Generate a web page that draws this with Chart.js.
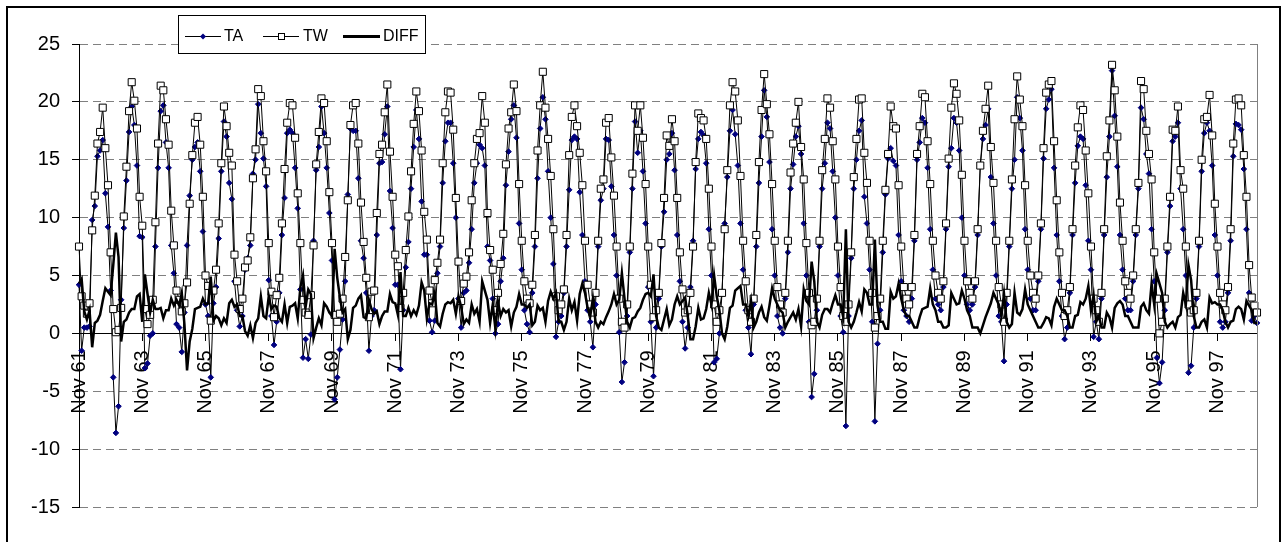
<html lang="en">
<head>
  <meta charset="UTF-8">
  <title>TA / TW / DIFF</title>
  <style>
    body { margin: 0; background: #fff; }
    #wrap { position: absolute; left: 0; top: 0; width: 1282px; height: 542px; }
  </style>
  <script src="https://cdn.jsdelivr.net/npm/chart.js@4.4.0/dist/chart.umd.min.js"></script>
</head>
<body>
  <div id="wrap"><canvas id="lineChart"></canvas></div>
  <script>
    // monthly series, Nov 61 .. Feb 99 (one row = Nov..Oct)
    const startYear = 1961
    const monthNames = ["Jan", "Feb", "Mar", "Apr", "May", "Jun", "Jul", "Aug", "Sep", "Oct", "Nov", "Dec"]
    const tickEvery = 24
    const yTicks = [-15, -10, -5, 0, 5, 10, 15, 20, 25]

    const taValues = [
      4.2, -1.5, 0.5, 0.5, 0.6, 9.8, 11.0, 15.3, 15.8, 16.7, 12.1, 9.2,
      3.7, -3.8, -8.6, -6.3, 2.9, 9.1, 13.2, 17.4, 19.6, 18.0, 14.5, 8.4,
      8.3, -3.0, -2.6, -0.2, 0.0, 7.5, 14.3, 19.2, 19.7, 16.5, 14.3, 7.6,
      5.2, 0.8, 0.5, -1.6, 1.8, 7.6, 11.9, 15.0, 16.1, 16.5, 14.0, 8.8,
      2.5, 1.5, -3.8, 2.6, 4.0, 8.2, 14.0, 18.3, 17.0, 13.0, 11.6, 4.5,
      2.0, 0.6, 1.5, 5.5, 6.5, 7.6, 13.8, 15.0, 19.8, 17.3, 15.1, 12.7,
      4.6, 1.5, -1.0, 1.0, 3.5, 8.5, 11.7, 17.3, 17.6, 17.3, 14.3, 10.8,
      3.8, -2.1, -0.5, -2.2, -0.1, 8.0, 14.1, 16.1, 19.6, 17.3, 14.3, 10.4,
      6.3, -5.7, -3.8, -1.4, 1.2, 4.5, 12.0, 17.7, 17.5, 17.5, 13.4, 8.0,
      6.5, 3.5, -1.5, 1.5, 2.0, 8.5, 14.7, 14.8, 17.2, 19.6, 12.3, 9.1,
      4.2, 4.2, -3.1, 2.0, 5.7, 7.9, 12.5, 16.1, 19.3, 16.8, 11.4, 6.8,
      6.8, 1.1, 0.1, 1.1, 5.2, 7.5, 13.0, 16.6, 18.2, 18.2, 14.7, 10.0,
      3.0, 0.5, 3.5, 3.7, 6.1, 9.0, 13.0, 14.7, 16.3, 16.0, 14.5, 7.5,
      6.3, 3.0, 0.0, 0.8, 4.5, 6.5, 12.8, 15.7, 18.5, 19.7, 16.9, 9.5,
      5.5, 2.0, 0.8, 0.1, 3.5, 7.5, 13.4, 17.7, 20.4, 18.5, 14.0, 10.0,
      6.0, -0.3, 1.0, 1.5, 3.5, 7.5, 12.4, 16.7, 17.0, 16.8, 12.2, 8.5,
      4.5, 2.0, 1.0, -1.2, 2.5, 7.5, 11.5, 12.5, 16.8, 16.7, 12.7, 8.5,
      5.0, 0.1, -4.2, -2.5, 1.5, 7.0, 12.5, 18.3, 15.6, 17.5, 14.0, 9.5,
      4.0, 1.0, -3.7, 0.5, 3.0, 7.5, 10.5, 15.0, 15.5, 17.3, 14.1, 8.5,
      4.5, 1.0, -1.3, 0.5, 4.0, 8.0, 14.2, 16.8, 17.4, 17.1, 14.7, 9.0,
      5.0, -2.5, -2.2, 0.0, 3.5, 9.5, 13.5, 17.5, 19.3, 17.2, 14.5, 9.5,
      5.5, 2.0, 0.5, -1.8, 2.5, 7.5, 13.0, 17.0, 21.0, 18.7, 14.8, 9.0,
      5.0, 1.5, 0.5, 0.0, 3.0, 7.0, 12.5, 14.6, 17.0, 17.9, 15.5, 9.5,
      5.0, 1.0, -5.5, -3.5, 2.0, 7.5, 12.5, 14.7, 18.2, 17.7, 14.0, 10.0,
      5.0, 1.5, 0.1, -8.0, 1.5, 6.5, 12.5, 15.0, 17.5, 18.4, 11.8, 9.5,
      5.5, 1.0, -7.6, -0.9, 2.0, 7.0, 12.0, 15.1, 16.0, 14.9, 14.5, 8.5,
      4.5, 2.0, 1.5, 1.0, 3.0, 8.0, 15.0, 16.5, 18.6, 18.2, 14.3, 9.0,
      5.5, 3.0, 2.5, 2.0, 4.0, 9.0, 14.4, 16.0, 18.6, 18.2, 15.8, 10.0,
      5.0, 2.5, 2.0, 2.5, 4.0, 8.5, 14.5, 16.8, 18.0, 19.4, 13.5, 9.5,
      5.0, 1.5, 1.0, -2.4, 2.5, 7.5, 12.5, 15.0, 20.4, 18.6, 15.8, 9.0,
      5.5, 3.0, 2.0, 2.0, 4.5, 9.0, 15.1, 19.4, 20.2, 21.1, 14.3, 8.5,
      4.5, 1.5, -0.5, 0.5, 3.5, 8.5, 13.0, 16.2, 17.0, 16.8, 12.8, 8.0,
      5.5, -0.3, 1.0, -0.5, 3.0, 8.5, 13.5, 17.0, 22.7, 18.8, 14.4, 8.5,
      5.5, 3.0, 2.0, 2.0, 4.5, 8.5, 12.5, 19.5, 18.5, 15.5, 13.8, 9.0,
      4.5, -2.1, -4.3, -2.5, 2.0, 7.0, 11.0, 16.6, 17.0, 18.2, 12.5, 9.0,
      5.0, -3.4, -2.8, 0.5, 3.0, 7.5, 14.0, 17.3, 18.2, 17.5, 14.5, 8.5,
      5.0, 1.0, 0.5, 1.0, 3.5, 8.0, 15.3, 18.1, 18.0, 17.6, 14.2, 9.0,
      3.5, 1.1, 1.5, 0.9
    ]

    const twValues = [
      7.5, 3.2, 2.4, 1.7, 2.6, 8.9, 11.9, 16.4, 17.4, 19.5, 16.0, 12.8,
      7.0, 2.1, 0.1, 0.3, 2.2, 10.1, 14.4, 19.2, 21.7, 20.1, 17.7, 11.8,
      9.3, 2.1, 0.8, 1.6, 2.9, 9.6, 16.4, 21.4, 21.0, 18.5, 16.3, 10.6,
      7.6, 3.7, 2.9, 1.9, 2.6, 4.4, 11.2, 15.4, 18.2, 18.7, 16.3, 11.8,
      5.0, 4.1, 1.1, 3.7, 5.5, 9.5, 14.7, 19.6, 17.9, 15.6, 14.5, 6.8,
      4.5, 2.1, 3.0, 5.7, 6.3, 8.3, 13.4, 15.9, 21.1, 20.5, 16.6, 14.0,
      7.8, 3.6, 1.4, 3.3, 4.8, 9.5, 14.2, 18.2, 19.9, 19.7, 16.9, 12.1,
      7.8, 2.9, 1.8, 1.6, 3.3, 7.6, 14.6, 17.4, 20.3, 19.9, 16.6, 12.2,
      7.8, 1.6, 1.0, 1.7, 3.0, 6.6, 11.5, 18.0, 19.7, 19.9, 16.4, 11.3,
      7.9, 4.8, 1.4, 3.6, 3.7, 10.4, 15.5, 16.3, 19.1, 21.5, 15.7, 11.8,
      6.8, 5.8, 2.2, 3.5, 7.2, 10.1, 14.0, 18.1, 20.9, 19.2, 15.8, 10.5,
      8.1, 3.7, 2.6, 4.6, 6.1, 8.1, 14.7, 19.1, 20.9, 20.8, 17.6, 11.7,
      6.2, 2.8, 4.3, 4.9, 7.0, 11.5, 14.7, 16.8, 17.3, 20.5, 18.2, 10.4,
      7.2, 5.5, 2.0, 3.5, 6.0, 8.6, 14.6, 17.7, 19.1, 21.5, 19.2, 12.9,
      8.0, 4.5, 3.0, 2.6, 4.2, 8.5, 15.8, 19.7, 22.6, 19.5, 16.8, 13.6,
      9.0, 3.2, 2.0, 2.5, 3.8, 8.5, 15.4, 18.7, 19.7, 17.9, 15.6, 12.8,
      8.0, 4.2, 2.5, 1.8, 3.5, 8.0, 12.5, 13.3, 18.2, 18.6, 15.2, 11.9,
      7.5, 3.0, 1.0, 0.5, 2.5, 7.5, 13.8, 19.7, 17.5, 19.7, 16.9, 12.9,
      7.5, 4.2, 1.4, 2.0, 3.5, 7.8, 11.7, 17.1, 16.2, 18.5, 16.6, 11.7,
      7.0, 3.8, 1.8, 2.0, 3.5, 7.5, 14.8, 19.0, 18.6, 18.4, 16.8, 12.5,
      7.5, 2.5, 1.0, 2.0, 3.5, 9.0, 14.1, 19.7, 21.7, 20.9, 18.4, 13.6,
      8.0, 4.5, 2.0, 1.0, 3.0, 8.5, 14.8, 19.3, 22.4, 19.8, 17.2, 12.9,
      8.0, 4.0, 2.5, 1.8, 3.5, 8.0, 13.9, 16.4, 18.2, 20.0, 16.1, 13.3,
      7.8, 3.5, 0.7, 1.0, 3.0, 8.0, 14.1, 16.8, 20.3, 19.5, 16.6, 13.3,
      7.5, 4.0, 1.5, 1.0, 2.5, 7.0, 13.5, 16.8, 20.2, 20.3, 15.6, 13.0,
      8.0, 3.5, 0.5, 1.5, 3.0, 8.0, 12.4, 15.5, 19.6, 17.9, 17.7, 12.8,
      7.5, 4.0, 3.0, 2.5, 4.0, 8.5, 15.5, 17.9, 20.7, 20.4, 16.6, 12.9,
      8.0, 5.0, 3.5, 3.0, 4.5, 9.5, 15.1, 19.5, 21.6, 20.7, 18.4, 13.7,
      8.0, 4.5, 3.5, 3.0, 4.5, 9.0, 14.5, 17.5, 19.4, 21.4, 16.1, 13.0,
      8.0, 4.0, 2.5, 1.0, 3.5, 8.0, 13.3, 18.5, 22.2, 20.2, 17.9, 12.8,
      8.0, 5.0, 3.5, 3.0, 5.0, 9.5, 16.0, 20.8, 21.5, 21.8, 16.6, 11.5,
      7.0, 3.5, 1.5, 2.0, 4.0, 9.0, 14.5, 17.8, 19.7, 19.3, 15.8, 12.1,
      7.5, 3.0, 2.0, 1.0, 3.5, 9.0, 15.3, 18.4, 23.2, 21.0, 17.0, 11.3,
      8.0, 4.5, 3.5, 3.0, 5.0, 9.0, 13.0, 21.8, 21.1, 17.5, 15.5, 13.3,
      7.0, 3.0, 0.0, 1.0, 3.0, 7.5, 11.8, 17.6, 17.5, 19.6, 14.1, 12.5,
      7.5, 2.5, 1.8, 2.0, 3.5, 8.0, 15.0, 18.5, 18.7, 20.6, 17.1, 11.2,
      7.5, 3.5, 2.5, 2.0, 4.0, 9.0, 16.4, 20.2, 20.3, 19.7, 15.4, 11.8,
      5.9, 3.1, 2.4, 1.8
    ]

    const diffValues = [
      4.3, 4.7, 1.9, 1.2, 2.0, -1.2, 0.9, 1.1, 1.6, 2.8, 3.9, 3.6,
      3.3, 5.9, 8.7, 6.6, -0.7, 1.0, 1.2, 1.8, 2.1, 2.1, 3.2, 3.4,
      1.0, 5.1, 3.4, 1.8, 2.9, 2.1, 2.1, 2.2, 1.3, 2.0, 2.0, 3.0,
      2.4, 2.9, 2.4, 3.5, 0.8, -3.2, -0.7, 0.4, 2.1, 2.2, 2.3, 3.0,
      2.5, 2.6, 4.9, 1.1, 1.5, 1.3, 0.7, 1.3, 0.9, 2.6, 2.9, 2.3,
      2.5, 1.5, 1.5, 0.2, -0.2, 0.7, -0.4, 0.9, 1.3, 3.2, 1.5, 1.3,
      3.2, 2.1, 2.4, 2.3, 1.3, 1.0, 2.5, 0.9, 2.3, 2.4, 2.6, 1.3,
      4.0, 5.0, 2.3, 3.8, 3.4, -0.4, 0.5, 1.3, 0.7, 2.6, 2.3, 1.8,
      1.5, 7.3, 4.8, 3.1, 1.8, 2.1, -0.5, 0.3, 2.2, 2.4, 3.0, 3.3,
      1.4, 1.3, 2.9, 2.1, 1.7, 1.9, 0.8, 1.5, 1.9, 1.9, 3.4, 2.7,
      2.6, 1.6, 5.3, 1.5, 1.5, 2.2, 1.5, 2.0, 1.6, 2.4, 4.4, 3.7,
      1.3, 2.6, 2.5, 3.5, 0.9, 0.6, 1.7, 2.5, 2.7, 2.6, 2.9, 1.7,
      3.2, 2.3, 0.8, 1.2, 0.9, 2.5, 1.7, 2.1, 1.0, 4.5, 3.7, 2.9,
      0.9, 2.5, 0.4, 2.7, 1.5, 2.1, 1.8, 2.0, 0.6, 1.8, 2.3, 3.4,
      2.5, 2.5, 2.2, 2.5, 0.7, 1.0, 2.4, 2.0, 2.2, 1.0, 2.8, 3.6,
      3.0, 3.5, 1.0, 1.0, 0.3, 1.0, 3.0, 2.0, 2.7, 1.1, 3.4, 4.3,
      3.5, 2.2, 1.5, 3.0, 1.0, 0.5, 1.0, 0.8, 1.4, 1.9, 2.5, 3.4,
      2.5, 2.9, 5.2, 3.0, 1.0, 0.5, 1.3, 1.4, 1.9, 2.2, 2.9, 3.4,
      3.5, 3.2, 5.1, 1.5, 0.5, 0.3, 1.2, 2.1, 0.7, 1.2, 2.5, 3.2,
      2.5, 2.8, 3.1, 1.5, -0.5, -0.5, 0.6, 2.2, 1.2, 1.3, 2.1, 3.5,
      2.5, 5.0, 3.2, 2.0, 0.0, -0.5, 0.6, 2.2, 2.4, 3.7, 3.9, 4.1,
      2.5, 2.5, 1.5, 2.8, 0.5, 1.0, 1.8, 2.3, 1.4, 1.1, 2.4, 3.9,
      3.0, 2.5, 2.0, 1.8, 0.5, 1.0, 1.4, 1.8, 1.2, 2.1, 0.6, 3.8,
      2.8, 2.5, 6.2, 4.5, 1.0, 0.5, 1.6, 2.1, 2.1, 1.8, 2.6, 3.3,
      2.5, 2.5, 1.4, 9.0, 1.0, 0.5, 1.0, 1.8, 2.7, 1.9, 3.8, 3.5,
      2.5, 2.5, 8.1, 2.4, 1.0, 1.0, 0.4, 0.4, 3.6, 3.0, 3.2, 4.3,
      3.0, 2.0, 1.5, 1.5, 1.0, 0.5, 0.5, 1.4, 2.1, 2.2, 2.3, 3.9,
      2.5, 2.0, 1.0, 1.0, 0.5, 0.5, 0.7, 3.5, 3.0, 2.5, 2.6, 3.7,
      3.0, 2.0, 1.5, 0.5, 0.5, 0.5, 0.0, 0.7, 1.4, 2.0, 2.6, 3.5,
      3.0, 2.5, 1.5, 3.4, 1.0, 0.5, 0.8, 3.5, 1.8, 1.6, 2.1, 3.8,
      2.5, 2.0, 1.5, 1.0, 0.5, 0.5, 0.9, 1.4, 1.3, 0.7, 2.3, 3.0,
      2.5, 2.0, 2.0, 1.5, 0.5, 0.5, 1.5, 1.6, 2.7, 2.5, 3.0, 4.1,
      2.0, 3.3, 1.0, 1.5, 0.5, 0.5, 1.8, 1.4, 0.5, 2.2, 2.6, 2.8,
      2.5, 1.5, 1.5, 1.0, 0.5, 0.5, 0.5, 2.3, 2.6, 2.0, 1.7, 4.3,
      2.5, 5.1, 4.3, 3.5, 1.0, 0.5, 0.8, 1.0, 0.5, 1.4, 1.6, 3.5,
      2.5, 5.9, 4.6, 1.5, 0.5, 0.5, 1.0, 1.2, 0.5, 3.1, 2.6, 2.7,
      2.5, 2.5, 2.0, 1.0, 0.5, 1.0, 1.1, 2.1, 2.3, 2.1, 1.2, 2.8,
      2.4, 2.0, 0.9, 0.9
    ]

    // category labels "Nov 61", "Dec 61", ...
    const labels = []
    for (let i = 0; i < taValues.length; i += 1) {
      const m = (10 + i) % 12
      const y = startYear + Math.floor((10 + i) / 12)
      labels.push(monthNames[m] + " " + String(y).slice(2))
    }

    const font = "'Liberation Sans', Arial, sans-serif"

    const frame = {
      id: "frame",
      beforeDraw(chart) {
        const c = chart.ctx
        c.save()
        c.fillStyle = "#fff"
        c.fillRect(0, 0, chart.width, chart.height)
        c.restore()
      },
      afterDraw(chart) {
        const c = chart.ctx
        const a = chart.chartArea
        c.save()
        c.strokeStyle = "#808080"
        c.lineWidth = 1
        c.beginPath()
        c.moveTo(a.right + 0.5, a.top)
        c.lineTo(a.right + 0.5, a.bottom)
        c.stroke()

        c.strokeStyle = "#000"
        c.lineWidth = 2
        c.beginPath()
        c.moveTo(7, 560)
        c.lineTo(7, 7)
        c.lineTo(1280, 7)
        c.lineTo(1280, 560)
        c.stroke()

        // legend box
        const y = 36.5
        c.fillStyle = "#fff"
        c.fillRect(178, 15, 247, 39)
        c.strokeStyle = "#000"
        c.lineWidth = 1
        c.strokeRect(178.5, 15.5, 247, 38)
        c.font = "16px " + font
        c.textBaseline = "middle"
        c.fillStyle = "#000"

        c.beginPath()
        c.moveTo(185, y)
        c.lineTo(221, y)
        c.stroke()
        c.fillStyle = "#000080"
        c.beginPath()
        c.moveTo(203, y - 3)
        c.lineTo(206, y)
        c.lineTo(203, y + 3)
        c.lineTo(200, y)
        c.closePath()
        c.fill()
        c.fillStyle = "#000"
        c.fillText("TA", 224, y)

        c.beginPath()
        c.moveTo(263, y)
        c.lineTo(299, y)
        c.stroke()
        c.fillStyle = "#fff"
        c.fillRect(278, y - 3, 6, 6)
        c.strokeRect(278.5, y - 3, 6, 6)
        c.fillStyle = "#000"
        c.fillText("TW", 303, y)

        c.lineWidth = 3
        c.beginPath()
        c.moveTo(343, y)
        c.lineTo(380, y)
        c.stroke()
        c.fillText("DIFF", 383, y)
        c.restore()
      }
    }

    const data = {
      labels,
      datasets: [{
        label: "TA",
        data: taValues,
        borderColor: "#000",
        borderWidth: 1,
        pointStyle: "rectRot",
        pointRadius: 2.8,
        pointBackgroundColor: "#000080",
        pointBorderColor: "#000080",
        pointBorderWidth: 1,
        order: 2,
      }, {
        label: "TW",
        data: twValues,
        borderColor: "#000",
        borderWidth: 1,
        pointStyle: "rect",
        pointRadius: 5,
        pointBackgroundColor: "#fff",
        pointBorderColor: "#000",
        pointBorderWidth: 1,
        order: 1,
      }, {
        label: "DIFF",
        data: diffValues,
        borderColor: "#000",
        borderWidth: 2.5,
        pointRadius: 0,
        order: 0,
      }]
    }

    const config = {
      type: "line",
      data,
      plugins: [frame],
      options: {
        responsive: true,
        maintainAspectRatio: false,
        animation: false,
        events: [],
        layout: { padding: { left: 0, top: 44, right: 25, bottom: 35 } },
        plugins: { legend: { display: false }, tooltip: { enabled: false } },
        elements: { line: { tension: 0 } },
        scales: {
          x: {
            type: "category",
            position: { y: 0 },
            offset: false,
            grid: { drawOnChartArea: false, drawTicks: true, tickLength: 7, color: "#000", tickColor: "#000" },
            border: { display: true, color: "#000", width: 1 },
            ticks: {
              autoSkip: false,
              minRotation: 90,
              maxRotation: 90,
              padding: 10,
              color: "#000",
              font: { family: font, size: 20 },
              callback: (val, i) => (i % tickEvery === 0 ? labels[i] : null),
            },
          },
          y: {
            min: yTicks[0],
            max: yTicks[yTicks.length - 1],
            afterFit: (s) => { s.width = 79 },
            afterBuildTicks: (s) => { s.ticks = yTicks.map((v) => ({ value: v })) },
            grid: {
              color: (ctx) => (ctx.tick && ctx.tick.value === 0 ? "rgba(0,0,0,0)" : "#808080"),
              lineWidth: 1,
              tickLength: 7,
              tickColor: "#000",
            },
            border: { display: true, color: "#000", width: 1, dash: [8, 5] },
            ticks: {
              padding: 12,
              color: "#000",
              font: { family: font, size: 20 },
            },
          },
        },
      },
    }

    const chart = new Chart(document.getElementById("lineChart"), config)
  </script>
</body>
</html>
